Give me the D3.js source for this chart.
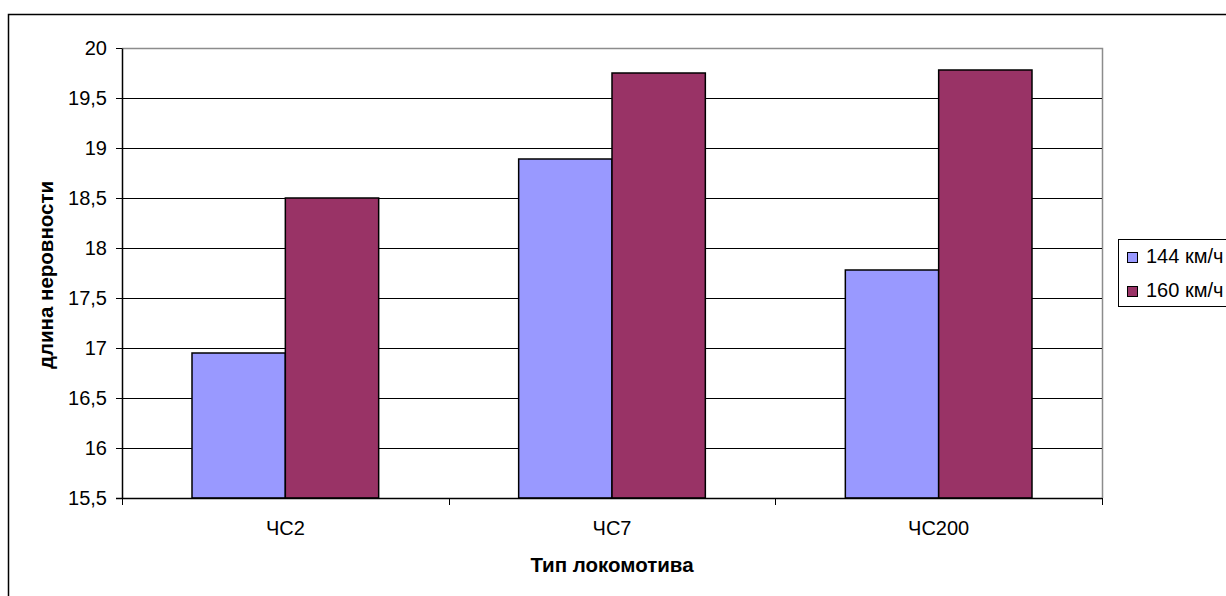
<!DOCTYPE html>
<html>
<head>
<meta charset="utf-8">
<script src="https://cdn.jsdelivr.net/npm/d3@7"></script>
<style>
  html, body { margin: 0; padding: 0; background: #fff; }
  svg { display: block; font-family: "Liberation Sans", Arial, sans-serif; }
</style>
</head>
<body>
<svg id="chart" width="1226" height="596"></svg>
<script>
// Длина неровности по типам локомотивов при двух скоростях
const categories = ["ЧС2", "ЧС7", "ЧС200"];
const seriesNames = ["144 км/ч", "160 км/ч"];
const values144 = [16.95, 18.89, 17.78];
const values160 = [18.5, 19.75, 19.78];
const yTicks = [15.5, 16, 16.5, 17, 17.5, 18, 18.5, 19, 19.5, 20];
const colors = ["#9999ff", "#993366"];

const svg = d3.select("#chart");
const plot = { left: 122, top: 48, right: 1102, bottom: 498 };

// outer chart frame
svg.append("rect")
  .attr("x", 8.5).attr("y", 14.5)
  .attr("width", 1300).attr("height", 700)
  .attr("fill", "none").attr("stroke", "#000").attr("stroke-width", 1.5);

const x0 = d3.scaleBand().domain(categories).range([plot.left, plot.right]).paddingInner(0).paddingOuter(0);
// gap between groups is 150% of a bar width
const x1 = d3.scaleBand().domain(seriesNames).range([0, x0.bandwidth()]).paddingInner(0).paddingOuter(0.75);
const y = d3.scaleLinear().domain([15.5, 20]).range([plot.bottom, plot.top]);

// plot area border (top/right)
svg.append("path")
  .attr("d", `M${plot.left},${plot.top + 0.5}H${plot.right + 0.5}V${plot.bottom}`)
  .attr("fill", "none").attr("stroke", "#8c8c8c").attr("stroke-width", 1.5);

// horizontal gridlines
svg.append("g").selectAll("line")
  .data(yTicks.filter(t => t > 15.5 && t < 20))
  .join("line")
  .attr("x1", plot.left).attr("x2", plot.right)
  .attr("y1", d => Math.round(y(d)) + 0.5).attr("y2", d => Math.round(y(d)) + 0.5)
  .attr("stroke", "#000").attr("stroke-width", 1);

// bars
const data = categories.map((c, i) => ({ cat: c, vals: [values144[i], values160[i]] }));
const groups = svg.append("g").selectAll("g")
  .data(data).join("g")
  .attr("transform", d => `translate(${x0(d.cat)},0)`);
groups.selectAll("rect")
  .data(d => d.vals.map((v, j) => ({ name: seriesNames[j], v, j })))
  .join("rect")
  .attr("x", d => x1(d.name))
  .attr("y", d => y(d.v))
  .attr("width", x1.bandwidth())
  .attr("height", d => y(15.5) - y(d.v))
  .attr("fill", d => colors[d.j])
  .attr("stroke", "#000").attr("stroke-width", 1.5);

// y axis
const yAxis = d3.axisLeft(y).tickValues(yTicks)
  .tickFormat(d => String(d).replace(".", ","))
  .tickSize(6).tickSizeOuter(0).tickPadding(9);
const gy = svg.append("g").attr("transform", `translate(${plot.left},0)`).call(yAxis);
gy.select(".domain").attr("stroke", "#000").attr("stroke-width", 1.5);
gy.selectAll(".tick line").attr("stroke", "#000");
gy.selectAll(".tick text").attr("font-size", 20).attr("fill", "#000")
  .attr("font-family", "'Liberation Sans', Arial, sans-serif");

// x axis with ticks at category boundaries
const gx = svg.append("g").attr("transform", `translate(0,${plot.bottom})`);
gx.append("line").attr("x1", plot.left - 6).attr("x2", plot.right)
  .attr("y1", 0.5).attr("y2", 0.5).attr("stroke", "#000").attr("stroke-width", 1.5);
const bounds = categories.map(c => x0(c)).concat([x0(categories[categories.length - 1]) + x0.bandwidth()]);
gx.selectAll("line.tk").data(bounds).join("line").attr("class", "tk")
  .attr("x1", d => Math.round(d) + 0.5).attr("x2", d => Math.round(d) + 0.5)
  .attr("y1", 0).attr("y2", 7).attr("stroke", "#000");
gx.selectAll("text").data(categories).join("text")
  .attr("x", d => x0(d) + x0.bandwidth() / 2)
  .attr("y", 37)
  .attr("text-anchor", "middle").attr("font-size", 20).attr("fill", "#000")
  .text(d => d);

// axis titles
svg.append("text")
  .attr("x", 612).attr("y", 572)
  .attr("text-anchor", "middle").attr("font-size", 20.5).attr("font-weight", "bold")
  .text("Тип локомотива");
svg.append("text")
  .attr("transform", `translate(53,275) rotate(-90)`)
  .attr("text-anchor", "middle").attr("font-size", 20.5).attr("font-weight", "bold")
  .text("длина неровности");

// legend
const lg = svg.append("g");
lg.append("rect").attr("x", 1118.5).attr("y", 239.5).attr("width", 200).attr("height", 67)
  .attr("fill", "#fff").attr("stroke", "#000").attr("stroke-width", 1);
seriesNames.forEach((n, i) => {
  const top = 252 + i * 34;
  lg.append("rect").attr("x", 1127.5).attr("y", top + 0.5).attr("width", 10).attr("height", 10)
    .attr("fill", colors[i]).attr("stroke", "#000").attr("stroke-width", 1);
  lg.append("text").attr("x", 1146).attr("y", top + 11)
    .attr("font-size", 20).attr("fill", "#000").text(n);
});
</script>
</body>
</html>
